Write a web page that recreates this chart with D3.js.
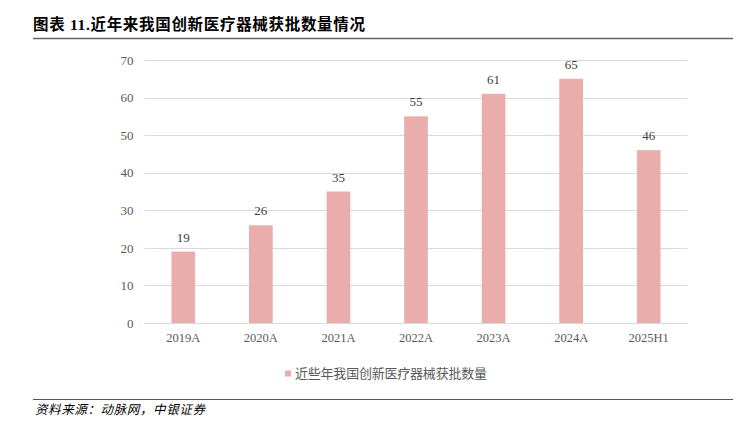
<!DOCTYPE html>
<html><head><meta charset="utf-8">
<script src="https://cdn.jsdelivr.net/npm/d3@7"></script>
<style>body{margin:0;background:#fff}</style>
</head><body>
<svg id="c" width="749" height="425"></svg>
<script>
const categories = ["2019A","2020A","2021A","2022A","2023A","2024A","2025H1"];
const values = [19,26,35,55,61,65,46];
const yTicks = [0,10,20,30,40,50,60,70];
const seriesName = "近些年我国创新医疗器械获批数量";
const titleText = "图表 11.近年来我国创新医疗器械获批数量情况";
const sourceText = "资料来源：动脉网，中银证券";

const svg = d3.select("#c");
const serif = "'Liberation Serif','Times New Roman',serif";
const cjk = "'Noto Sans CJK SC','Noto Sans CJK JP',sans-serif";
const barColor = "#E9ADAB";

// title
svg.append("text").attr("x",33).attr("y",29.5)
  .attr("font-family",serif+","+cjk).attr("font-weight","bold").attr("font-size",15.5)
  .attr("textLength",332).attr("lengthAdjust","spacing")
  .attr("fill","#000").text(titleText);
svg.append("line").attr("x1",33).attr("x2",733).attr("y1",38.5).attr("y2",38.5)
  .attr("stroke","#666").attr("stroke-width",1.5);

const x = d3.scaleBand().domain(categories).range([144.5,687.5]).paddingInner(0.695).paddingOuter(0.3475);
const y = d3.scaleLinear().domain([0,70]).range([323,60]);

// grid
svg.append("g").selectAll("line").data(yTicks).join("line")
  .attr("x1",144.5).attr("x2",687.5)
  .attr("y1",d=>Math.round(y(d))+0.5).attr("y2",d=>Math.round(y(d))+0.5)
  .attr("stroke","#D9D9D9").attr("stroke-width",1);

// y axis
const ya = svg.append("g").attr("transform","translate(144.5,0)")
  .call(d3.axisLeft(y).tickValues(yTicks).tickSize(0).tickPadding(11));
ya.select(".domain").remove();
ya.selectAll("text").attr("font-family",serif).attr("font-size",13).attr("fill","#595959");

// bars
svg.selectAll("rect.bar").data(values).join("rect").attr("class","bar")
  .attr("x",(d,i)=>x(categories[i])).attr("width",x.bandwidth())
  .attr("y",d=>y(d)).attr("height",d=>y(0)-y(d)).attr("fill",barColor);

// zero line over bars
svg.append("line").attr("x1",144.5).attr("x2",687.5).attr("y1",323.5).attr("y2",323.5)
  .attr("stroke","#D9D9D9");

// x axis
const xa = svg.append("g").attr("transform","translate(0,323)")
  .call(d3.axisBottom(x).tickSize(0).tickPadding(10));
xa.select(".domain").remove();
xa.selectAll("text").attr("font-family",serif).attr("font-size",12.5).attr("fill","#595959");

// value labels
svg.selectAll("text.val").data(values).join("text").attr("class","val")
  .attr("x",(d,i)=>x(categories[i])+x.bandwidth()/2).attr("y",d=>y(d)-10)
  .attr("text-anchor","middle").attr("font-family",serif).attr("font-size",13)
  .attr("fill","#404040").text(d=>d);

// legend
svg.append("rect").attr("x",285).attr("y",370.5).attr("width",6).attr("height",6).attr("fill",barColor);
svg.append("text").attr("x",295).attr("y",378).attr("font-family",cjk).attr("font-size",13)
  .attr("textLength",192).attr("lengthAdjust","spacing")
  .attr("fill","#595959").text(seriesName);

// source
svg.append("line").attr("x1",33).attr("x2",733).attr("y1",399.5).attr("y2",399.5)
  .attr("stroke","#555").attr("stroke-width",1.2);
svg.append("text").attr("x",35).attr("y",414).attr("font-family",cjk).attr("font-size",12.5)
  .attr("font-style","italic").attr("textLength",170).attr("lengthAdjust","spacing")
  .attr("fill","#000").text(sourceText);
</script>
</body></html>
